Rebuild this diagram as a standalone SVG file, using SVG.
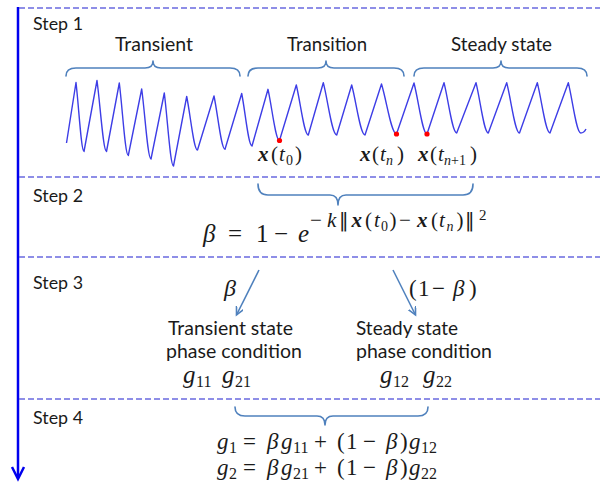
<svg xmlns="http://www.w3.org/2000/svg" width="600" height="487" viewBox="0 0 600 487">
<defs>
<style>
.lbl{font-family:Lato,"Liberation Sans",sans-serif;fill:#1a1a1a}
.m{font-family:"Liberation Serif","Times New Roman",serif;fill:#1a1a1a}
.i{font-style:italic}
.bx{font-style:italic;font-weight:bold}
.nm{font-family:"DejaVu Sans",sans-serif;font-style:normal;font-weight:normal}
.dash{stroke:#6a6ae0;stroke-width:1.3;stroke-dasharray:6 3;fill:none}
.brace{stroke:#4f81bd;stroke-width:1.6;fill:none;stroke-linecap:round;stroke-linejoin:round}
.sarrow{stroke:#4f81bd;stroke-width:1.6;fill:none;marker-end:url(#vhead)}
.wave{stroke:#3d3de6;stroke-width:1.4;fill:none;stroke-linejoin:round}
.dot{fill:#ff0000}
</style>
<marker id="vhead" markerWidth="10" markerHeight="10" refX="8" refY="4" orient="auto" markerUnits="userSpaceOnUse">
<path d="M0,0 L8,4 L0,8" fill="none" stroke="#4f81bd" stroke-width="1.6"/>
</marker>
</defs>

<g id="frame">
<line x1="18" y1="7" x2="18" y2="478" stroke="#0000ee" stroke-width="2.5"/>
<polyline points="12,467 18,479 24,467" fill="none" stroke="#0000ee" stroke-width="2.5"/>
<line class="dash" x1="19" y1="8" x2="600" y2="8"/>
<line class="dash" x1="19" y1="177" x2="600" y2="177"/>
<line class="dash" x1="19" y1="257" x2="600" y2="257"/>
<line class="dash" x1="19" y1="399" x2="600" y2="399"/>
</g>

<g id="step1">
<text class="lbl" x="33" y="30" font-size="18" textLength="50" lengthAdjust="spacingAndGlyphs">Step 1</text>
<text class="lbl" x="115" y="51" font-size="19" textLength="78" lengthAdjust="spacingAndGlyphs">Transient</text>
<text class="lbl" x="287" y="51" font-size="19" textLength="80" lengthAdjust="spacingAndGlyphs">Transition</text>
<text class="lbl" x="451" y="51" font-size="19" textLength="101" lengthAdjust="spacingAndGlyphs">Steady state</text>
<path class="brace" d="M66,76 Q66,68 76,68 L145,68 Q153,68 153,61 Q153,68 161,68 L230,68 Q240,68 240,76"/>
<path class="brace" d="M248,76 Q248,68 258,68 L318,68 Q326,68 326,61 Q326,68 334,68 L394,68 Q404,68 404,76"/>
<path class="brace" d="M414,76 Q414,68 424,68 L493,68 Q501,68 501,61 Q501,68 509,68 L577,68 Q587,68 587,76"/>
<path class="wave" d="M66.5,143 L76,82.5 C78.8,106.65 81.2,151.5 84,151.5 L97,80.5 C100.3,105.4 103.2,151.5 106.5,151.5 L119.3,83 C122.5,108.4 125.1,155.5 128.3,155.5 L141.7,89 C145,113.5 147.7,159 151,159 L164.3,93 C167.5,118.6 170.3,166 173.5,166 L186.7,96.5 C190.5,115.2 193.7,150 197.5,150 L214,96 C217.9,114.7 221.2,149.3 225,149.3 L241.7,93.5 C245.3,111.9 248.4,146 252,146 L268,89.3 C272,107.2 275.5,140.5 279.5,140.5 L296.3,85 C300.5,102.5 304.1,135 308.3,135 L323.3,82.7 C328,101 332,135 336.7,135 L351.7,85 C356.4,102.5 360.3,135 365,135 L381.5,84 C386.8,101.5 391.25,134 396.5,134 L414,83 C418.6,100.9 422.5,134 427,134 L444,82.7 C448.4,100.3 452.3,133 456.7,133 L476,82.7 C480.3,100.3 484,133 488.3,133 L506.7,82.7 C511.2,100.3 515,133 519.5,133 L537.3,82.7 C541.7,100.3 545.6,133 550,133 L568.3,82.7 C572.6,100.3 576.4,133 580.7,133 Q584,133 586,129"/>
<circle class="dot" cx="279.5" cy="140.5" r="2.6"/>
<circle class="dot" cx="396.5" cy="134" r="2.6"/>
<circle class="dot" cx="427" cy="134" r="2.6"/>
<text class="m" y="161" font-size="21"><tspan class="bx" x="258">x</tspan><tspan x="271">(</tspan><tspan class="i" x="279">t</tspan><tspan x="286" font-size="14" dy="4">0</tspan><tspan x="295" dy="-4">)</tspan></text>
<text class="m" y="161" font-size="21"><tspan class="bx" x="360">x</tspan><tspan x="372">(</tspan><tspan class="i" x="380">t</tspan><tspan class="i" x="386" font-size="14" dy="4">n</tspan><tspan x="397" dy="-4">)</tspan></text>
<text class="m" y="161" font-size="21"><tspan class="bx" x="418">x</tspan><tspan x="430">(</tspan><tspan class="i" x="438">t</tspan><tspan x="444" font-size="14" dy="4"><tspan class="i">n</tspan>+1</tspan><tspan x="470" dy="-4">)</tspan></text>
</g>

<g id="step2">
<text class="lbl" x="33" y="202" font-size="18" textLength="50" lengthAdjust="spacingAndGlyphs">Step 2</text>
<path class="brace" d="M258,184 Q258,195 268,195 L330,195 Q338,195 338,205 Q338,195 346,195 L463,195 Q473,195 473,184"/>
<text class="m" y="242" font-size="25"><tspan class="i" x="203">β</tspan><tspan x="228">=</tspan><tspan x="256">1</tspan><tspan x="274">−</tspan><tspan class="i" x="298">e</tspan><tspan font-size="21" dy="-15"><tspan x="310">−</tspan><tspan class="i" x="327">k</tspan><tspan class="nm" x="339" font-size="19">‖</tspan><tspan class="bx" x="351.5">x</tspan><tspan x="365">(</tspan><tspan class="i" x="374">t</tspan><tspan x="381" font-size="14" dy="4">0</tspan><tspan x="389.5" dy="-4">)</tspan><tspan x="399">−</tspan><tspan class="bx" x="417">x</tspan><tspan x="431">(</tspan><tspan class="i" x="439">t</tspan><tspan class="i" x="446.5" font-size="14" dy="4">n</tspan><tspan x="456.5" dy="-4">)</tspan><tspan class="nm" x="465" font-size="19">‖</tspan><tspan x="479" font-size="15" dy="-7">2</tspan></tspan></text>
</g>

<g id="step3">
<text class="lbl" x="33" y="289" font-size="18" textLength="50" lengthAdjust="spacingAndGlyphs">Step 3</text>
<text class="m i" x="224" y="296" font-size="24">β</text>
<text class="m" y="296" font-size="23"><tspan x="409">(</tspan><tspan x="418">1</tspan><tspan x="432">−</tspan><tspan class="i" x="453">β</tspan><tspan x="469">)</tspan></text>
<text class="lbl" x="168" y="335" font-size="20" textLength="125" lengthAdjust="spacingAndGlyphs">Transient state</text>
<text class="lbl" x="166" y="358" font-size="20" textLength="136" lengthAdjust="spacingAndGlyphs">phase condition</text>
<text class="m" y="383" font-size="25"><tspan class="i" x="183">g</tspan><tspan x="196" font-size="16" dy="4">11</tspan><tspan class="i" x="222" dy="-4">g</tspan><tspan x="235" font-size="16" dy="4">21</tspan></text>
<text class="lbl" x="356" y="335" font-size="20" textLength="102" lengthAdjust="spacingAndGlyphs">Steady state</text>
<text class="lbl" x="356" y="358" font-size="20" textLength="136" lengthAdjust="spacingAndGlyphs">phase condition</text>
<text class="m" y="383" font-size="25"><tspan class="i" x="380">g</tspan><tspan x="393" font-size="16" dy="4">12</tspan><tspan class="i" x="423" dy="-4">g</tspan><tspan x="436" font-size="16" dy="4">22</tspan></text>
</g>

<g id="step4">
<text class="lbl" x="33" y="424" font-size="18" textLength="50" lengthAdjust="spacingAndGlyphs">Step 4</text>
<path class="brace" d="M235,407 Q235,416 245,416 L317,416 Q325,416 325,425 Q325,416 333,416 L418,416 Q428,416 428,407"/>
<text class="m" y="449" font-size="23"><tspan class="i" x="217">g</tspan><tspan x="229" font-size="16" dy="4">1</tspan><tspan x="243" dy="-4">=</tspan><tspan class="i" x="267">β</tspan><tspan class="i" x="281">g</tspan><tspan x="293" font-size="16" dy="4">11</tspan><tspan x="314" dy="-4">+</tspan><tspan x="337">(</tspan><tspan x="346">1</tspan><tspan x="363">−</tspan><tspan class="i" x="386">β</tspan><tspan x="400">)</tspan><tspan class="i" x="409">g</tspan><tspan x="421" font-size="16" dy="4">12</tspan></text>
<text class="m" y="475" font-size="23"><tspan class="i" x="217">g</tspan><tspan x="229" font-size="16" dy="4">2</tspan><tspan x="243" dy="-4">=</tspan><tspan class="i" x="267">β</tspan><tspan class="i" x="281">g</tspan><tspan x="293" font-size="16" dy="4">21</tspan><tspan x="314" dy="-4">+</tspan><tspan x="337">(</tspan><tspan x="346">1</tspan><tspan x="363">−</tspan><tspan class="i" x="386">β</tspan><tspan x="400">)</tspan><tspan class="i" x="409">g</tspan><tspan x="421" font-size="16" dy="4">22</tspan></text>
</g>

<g id="connectors">
<line class="sarrow" x1="259" y1="270" x2="236.5" y2="315"/>
<line class="sarrow" x1="393" y1="270" x2="415.5" y2="315"/>
</g>
</svg>
